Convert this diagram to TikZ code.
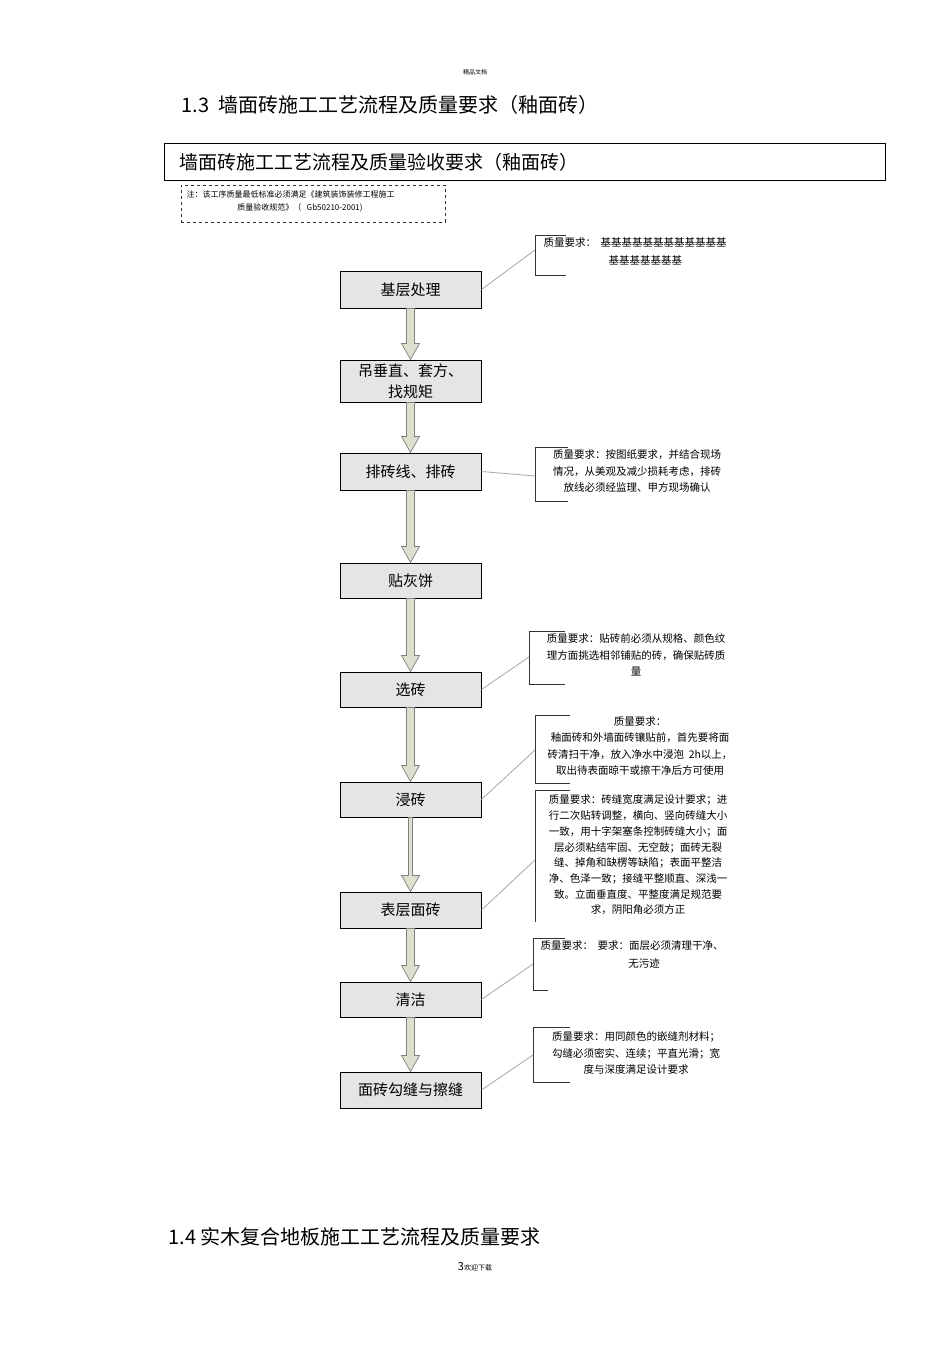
\documentclass[tikz,border=0pt]{standalone}
\usepackage{fontspec}
\setmainfont{Noto Sans CJK SC}
\usetikzlibrary{calc}
\tikzset{
 stepbox/.style={draw=black,fill=gray!20,line width=1pt,minimum width=141pt,font=\fontsize{15}{17}\selectfont,inner sep=0pt},
 note/.style={font=\fontsize{10.5}{16.5}\selectfont,align=center,inner sep=0pt},
 brk/.style={draw=black!80,line width=0.8pt},
 lnk/.style={draw=gray!70,line width=0.8pt}
}
\newcommand\fatarr[3]{\path let \p1=(#1.south), \p2=(#2.north) in
 [fill={rgb,255:red,222;green,224;blue,206},draw=gray,line width=0.7pt]
 (\x1-#3,\y1) -- (\x1+#3,\y1) -- (\x1+#3,\y2+16) -- (\x1+9,\y2+16) -- (\x1,\y2) -- (\x1-9,\y2+16) -- (\x1-#3,\y2+16) -- cycle;}
\begin{document}
\begin{tikzpicture}[x=1pt,y=-1pt]
\useasboundingbox (0,0) rectangle (950,1345);
\node[font=\fontsize{6}{7}\selectfont] (top) at (475,72) {精品文档};
\node[anchor=west,font=\fontsize{20}{22}\selectfont] (h13) at (178,105) {1.3\ \ 墙面砖施工工艺流程及质量要求（釉面砖）};
\node[draw,line width=1pt,minimum width=721pt,minimum height=37pt,anchor=north west,inner sep=0pt] (hdr) at (164,143) {};
\node[anchor=west,font=\fontsize{19}{21}\selectfont] (hdrt) at (176,162) {墙面砖施工工艺流程及质量验收要求（釉面砖）};
\node[draw=black!80,dashed,minimum width=264pt,minimum height=37pt,anchor=north west,inner sep=0pt] (nb) at (181,185) {};
\node[anchor=west,font=\fontsize{8}{9}\selectfont] (n1) at (183,194) {注：该工序质量最低标准必须满足《建筑装饰装修工程施工};
\node[font=\fontsize{8}{9}\selectfont] (n2) at (300,208) {质量验收规范》（\ \ \ Gb50210-2001)};

\node[stepbox,minimum height=37pt] (b1) at (410.5,289.5) {基层处理};
\node[stepbox,minimum height=42pt,align=center,font=\fontsize{15}{21}\selectfont] (b2) at (410.5,381) {吊垂直、套方、\\找规矩};
\node[stepbox,minimum height=37pt] (b3) at (410.5,471.5) {排砖线、排砖};
\node[stepbox,minimum height=35pt] (b4) at (410.5,580.5) {贴灰饼};
\node[stepbox,minimum height=35pt] (b5) at (410.5,689.5) {选砖};
\node[stepbox,minimum height=35pt] (b6) at (410.5,799.5) {浸砖};
\node[stepbox,minimum height=36pt] (b7) at (410.5,910) {表层面砖};
\node[stepbox,minimum height=35pt] (b8) at (410.5,999.5) {清洁};
\node[stepbox,minimum height=36pt] (b9) at (410.5,1090) {面砖勾缝与擦缝};

\fatarr{b1}{b2}{4}
\fatarr{b2}{b3}{4}
\fatarr{b3}{b4}{4}
\fatarr{b4}{b5}{4}
\fatarr{b5}{b6}{4}
\fatarr{b6}{b7}{2}
\fatarr{b7}{b8}{4}
\fatarr{b8}{b9}{4}

% brackets
\draw[brk] (566,235) -- (535,235) -- (535,275) -- (566,275);
\coordinate (c1) at (535,250);
\draw[lnk] (b1.east) -- (c1);
\node[anchor=west,font=\fontsize{10.5}{12}\selectfont] (t1a) at (540,243) {质量要求：\ \ 基基基基基基基基基基基基};
\node[anchor=west,font=\fontsize{10.5}{12}\selectfont] (t1b) at (605,260) {基基基基基基基};

\draw[brk] (568,447) -- (535,447) -- (535,501) -- (568,501);
\coordinate (c2) at (535,476);
\draw[lnk] (b3.east) -- (c2);
\node[note] (t2) at (637,471) {质量要求：按图纸要求，并结合现场\\情况，从美观及减少损耗考虑，排砖\\放线必须经监理、甲方现场确认};

\draw[brk] (565,631) -- (529,631) -- (529,684) -- (565,684);
\coordinate (c3) at (529,657);
\draw[lnk] (b5.east) -- (c3);
\node[note] (t3) at (636,655) {质量要求：贴砖前必须从规格、颜色纹\\理方面挑选相邻铺贴的砖，确保贴砖质\\量};

\draw[brk] (570,715) -- (535,715) -- (535,783) -- (570,783);
\coordinate (c4) at (535,750);
\draw[lnk] (b6.east) -- (c4);
\node[note] (t4) at (640,746) {质量要求：\\釉面砖和外墙面砖镶贴前，首先要将面\\砖清扫干净，放入净水中浸泡\ \ 2h以上，\\取出待表面晾干或擦干净后方可使用};

\draw[brk] (570,790) -- (535,790) -- (535,922);
\coordinate (c5) at (535,860);
\draw[lnk] (b7.east) -- (c5);
\node[note,font=\fontsize{10.5}{15.7}\selectfont] (t5) at (638,855) {质量要求：砖缝宽度满足设计要求；进\\行二次贴转调整，横向、竖向砖缝大小\\一致，用十字架塞条控制砖缝大小；面\\层必须粘结牢固、无空鼓；面砖无裂\\缝、掉角和缺楞等缺陷；表面平整洁\\净、色泽一致；接缝平整顺直、深浅一\\致。立面垂直度、平整度满足规范要\\求，阴阳角必须方正};

\draw[brk] (565,938) -- (533,938) -- (533,990) -- (548,990);
\coordinate (c6) at (533,964);
\draw[lnk] (b8.east) -- (c6);
\node[anchor=west,font=\fontsize{10.5}{12}\selectfont] (t6a) at (537,946) {质量要求：\ \ 要求：面层必须清理干净、};
\node[font=\fontsize{10.5}{12}\selectfont] (t6b) at (644,963) {无污迹};

\draw[brk] (570,1027) -- (533,1027) -- (533,1082) -- (570,1082);
\coordinate (c7) at (533,1055);
\draw[lnk] (b9.east) -- (c7);
\node[note] (t7) at (636,1053) {质量要求：用同颜色的嵌缝剂材料；\\勾缝必须密实、连续；平直光滑；宽\\度与深度满足设计要求};

\node[anchor=west,font=\fontsize{20}{22}\selectfont] (h14) at (165,1237) {1.4\ 实木复合地板施工工艺流程及质量要求};
\node[font=\fontsize{7}{8}\selectfont] (pg) at (475,1267) {{\fontsize{11}{12}\selectfont 3}欢迎下载};
\end{tikzpicture}
\end{document}
